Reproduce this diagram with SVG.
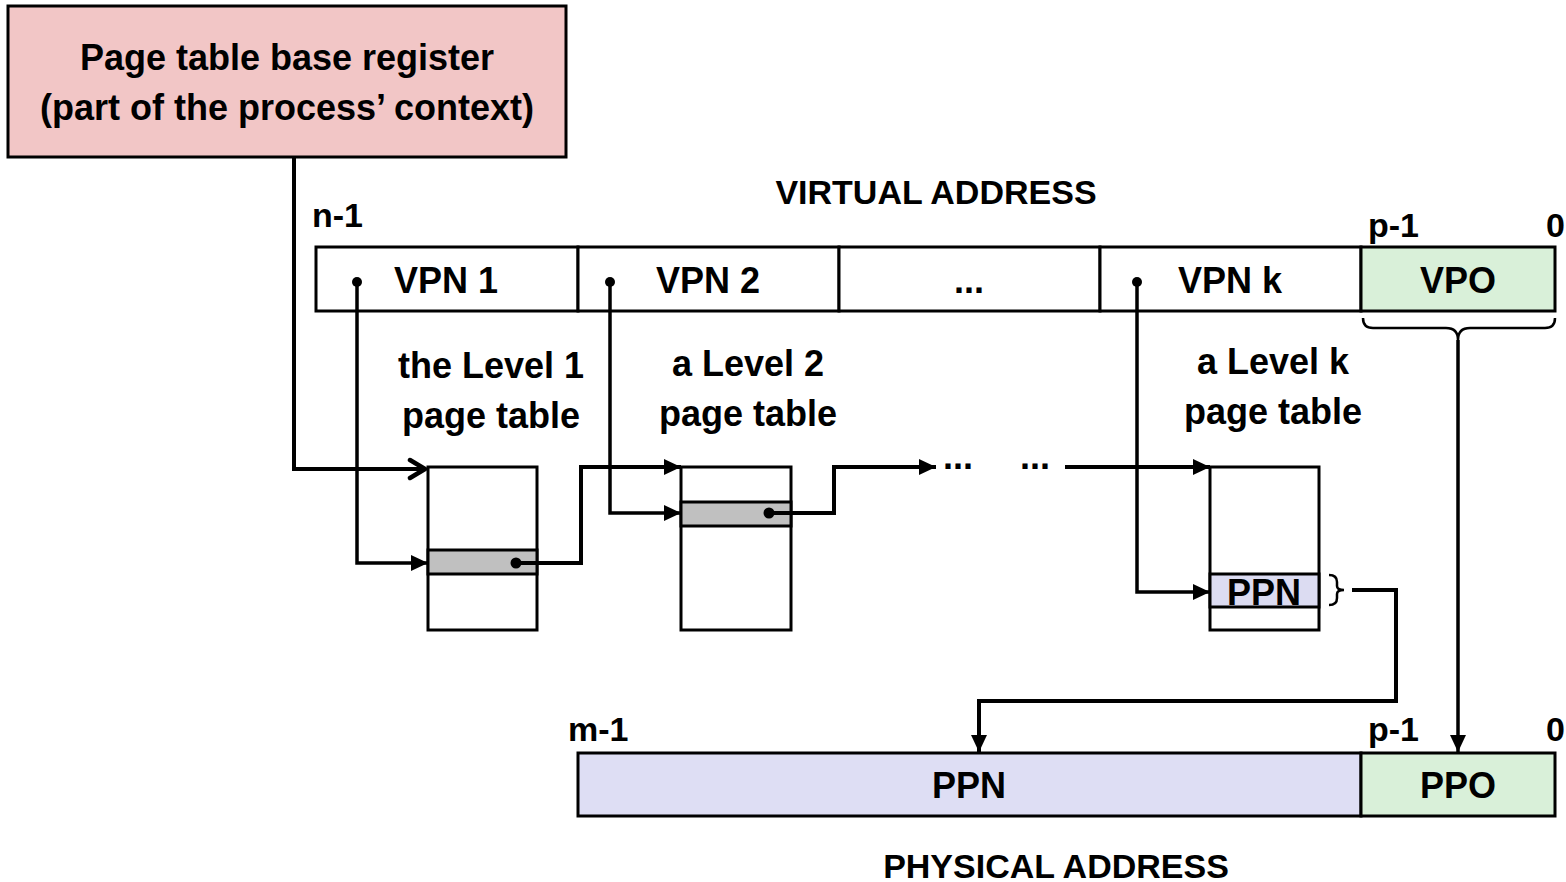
<svg xmlns="http://www.w3.org/2000/svg" width="1566" height="882" viewBox="0 0 1566 882">
<style>
text{font-family:"Liberation Sans",Arial,sans-serif;font-weight:bold;fill:#000}
.t36{font-size:36px}
.t34{font-size:34px}
.c{text-anchor:middle}
.cell{stroke:#000;stroke-width:3}
.conn{fill:none;stroke:#000;stroke-width:4;stroke-linejoin:miter}
.thin{fill:none;stroke:#000;stroke-width:3.5}
.brace{fill:none;stroke:#000;stroke-width:2.5}
</style>
<defs>
<marker id="arr" markerUnits="userSpaceOnUse" markerWidth="18" markerHeight="18" refX="17" refY="9" orient="auto">
<path d="M0,1 L17,9 L0,17 z" fill="#000"/>
</marker>
<marker id="chev" markerUnits="userSpaceOnUse" markerWidth="22" markerHeight="24" refX="19" refY="12" orient="auto">
<path d="M3,3 L18,12 L3,21" fill="none" stroke="#000" stroke-width="4.5" stroke-linecap="round" stroke-linejoin="round"/>
</marker>
</defs>
<rect width="1566" height="882" fill="#fff"/>

<g id="ptbr">
<rect x="8" y="6" width="558" height="151" fill="#f2c6c6" class="cell"/>
<text class="t36 c" x="287" y="70">Page table base register</text>
<text class="t36 c" x="287" y="120">(part of the process’ context)</text>
</g>

<g id="virtual-address">
<text class="t34 c" x="936" y="204">VIRTUAL ADDRESS</text>
<text class="t34" x="312" y="227">n-1</text>
<text class="t34" x="1368" y="237">p-1</text>
<text class="t34" x="1565" y="237" text-anchor="end">0</text>
<rect x="316" y="247" width="262" height="64" fill="#fff" class="cell"/>
<rect x="578" y="247" width="261" height="64" fill="#fff" class="cell"/>
<rect x="839" y="247" width="261" height="64" fill="#fff" class="cell"/>
<rect x="1100" y="247" width="261" height="64" fill="#fff" class="cell"/>
<rect x="1361" y="247" width="194" height="64" fill="#d9f0d9" class="cell"/>
<text class="t36 c" x="446" y="293">VPN 1</text>
<text class="t36 c" x="708" y="293">VPN 2</text>
<text class="t36 c" x="969" y="293">...</text>
<text class="t36 c" x="1230" y="293">VPN k</text>
<text class="t36 c" x="1458" y="293">VPO</text>
<path class="brace" d="M1363,318 Q1363,328 1373,328 H1446 Q1458,328 1458,340 Q1458,328 1470,328 H1545 Q1555,328 1555,318"/>
</g>

<g id="level1">
<text class="t36 c" x="491" y="378">the Level 1</text>
<text class="t36 c" x="491" y="428">page table</text>
<rect x="428" y="467" width="109" height="163" fill="#fff" class="cell"/>
<rect x="428" y="550" width="109" height="24" fill="#c0c0c0" class="cell"/>
</g>

<g id="level2">
<text class="t36 c" x="748" y="376">a Level 2</text>
<text class="t36 c" x="748" y="426">page table</text>
<rect x="681" y="467" width="110" height="163" fill="#fff" class="cell"/>
<rect x="681" y="502" width="110" height="24" fill="#c0c0c0" class="cell"/>
</g>

<g id="levelk">
<text class="t36 c" x="1273" y="374">a Level k</text>
<text class="t36 c" x="1273" y="424">page table</text>
<rect x="1210" y="467" width="109" height="163" fill="#fff" class="cell"/>
<rect x="1210" y="574" width="109" height="33" fill="#dcdcf2" class="cell"/>
<text class="t36 c" x="1264" y="605">PPN</text>
<path class="brace" d="M1329,575 Q1337,575 1337,582 V586 Q1337,590 1344,590 Q1337,590 1337,594 V598 Q1337,605 1329,605"/>
</g>

<g id="physical-address">
<text class="t34" x="568" y="741">m-1</text>
<text class="t34" x="1368" y="741">p-1</text>
<text class="t34" x="1565" y="741" text-anchor="end">0</text>
<rect x="578" y="753" width="783" height="63" fill="#dedef4" class="cell"/>
<rect x="1361" y="753" width="194" height="63" fill="#d9f0d9" class="cell"/>
<text class="t36 c" x="969" y="798">PPN</text>
<text class="t36 c" x="1458" y="798">PPO</text>
<text class="t34 c" x="1056" y="878">PHYSICAL ADDRESS</text>
</g>

<g id="ellipsis">
<text class="t36 c" x="958" y="469">...</text>
<text class="t36 c" x="1035" y="469">...</text>
</g>

<g id="connectors">
<path class="conn" d="M294,157 V469 H426" marker-end="url(#chev)"/>
<path class="thin" d="M357,282 V563 H428" marker-end="url(#arr)"/>
<path class="thin" d="M610,282 V513 H681" marker-end="url(#arr)"/>
<path class="thin" d="M1137,282 V592 H1210" marker-end="url(#arr)"/>
<path class="conn" d="M516,563 H581 V467 H681" marker-end="url(#arr)"/>
<path class="conn" d="M769,513 H834 V467 H936" marker-end="url(#arr)"/>
<path class="conn" d="M1065,467 H1210" marker-end="url(#arr)"/>
<path class="conn" d="M1352,590 H1396 V701 H979 V752" marker-end="url(#arr)"/>
<path class="thin" d="M1458,340 V752" marker-end="url(#arr)"/>
<circle cx="357" cy="282" r="5"/>
<circle cx="610" cy="282" r="5"/>
<circle cx="1137" cy="282" r="5"/>
<circle cx="516" cy="563" r="5.5"/>
<circle cx="769" cy="513" r="5.5"/>
</g>
</svg>
